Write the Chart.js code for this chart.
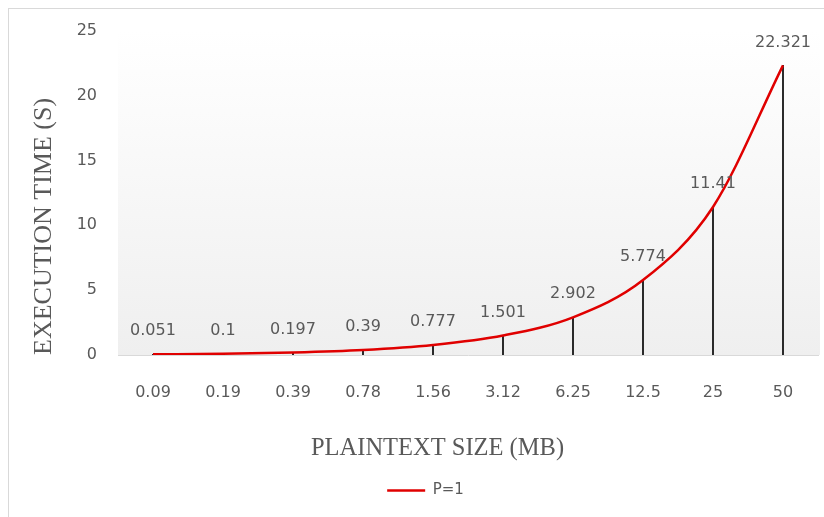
<!DOCTYPE html>
<html>
<head>
<meta charset="utf-8">
<script src="https://cdn.jsdelivr.net/npm/chart.js@4/dist/chart.umd.min.js"></script>
<style>
  html, body { margin: 0; padding: 0; background: #ffffff; }
  #wrap { width: 824px; height: 517px; }
</style>
</head>
<body>
<div id="wrap"><canvas id="c" width="824" height="517"></canvas></div>
<script>
// ---- data ----
const categories = ['0.09', '0.19', '0.39', '0.78', '1.56', '3.12', '6.25', '12.5', '25', '50'];
const timesP1 = [0.051, 0.1, 0.197, 0.39, 0.777, 1.501, 2.902, 5.774, 11.41, 22.321];
const yTicks = [0, 5, 10, 15, 20, 25];
const seriesName = 'P=1';
const xTitle = 'PLAINTEXT SIZE (MB)';
const yTitle = 'EXECUTION TIME (S)';

const TEXT = '#595959';
const SANS = '"DejaVu Sans", sans-serif';
const SERIF = '"Liberation Serif", "Times New Roman", serif';

const backgroundPlugin = {
  id: 'bg',
  beforeDraw(chart) {
    const { ctx, chartArea: a } = chart;
    ctx.save();
    ctx.fillStyle = '#ffffff';
    ctx.fillRect(0, 0, chart.width, chart.height);
    ctx.strokeStyle = '#d9d9d9';
    ctx.lineWidth = 1;
    ctx.strokeRect(8.5, 8.5, chart.width + 20, chart.height + 20);
    const g = ctx.createLinearGradient(0, a.top, 0, a.bottom);
    g.addColorStop(0, '#ffffff');
    g.addColorStop(1, '#efefef');
    ctx.fillStyle = g;
    ctx.fillRect(a.left, a.top, a.right - a.left + 2, a.bottom - a.top);
    ctx.restore();
  }
};

const labelsPlugin = {
  id: 'valueLabels',
  afterDatasetsDraw(chart) {
    const { ctx } = chart;
    const meta = chart.getDatasetMeta(0);
    ctx.save();
    ctx.font = '16px ' + SANS;
    ctx.fillStyle = TEXT;
    ctx.textAlign = 'center';
    ctx.textBaseline = 'middle';
    meta.data.forEach((pt, i) => {
      ctx.fillText(String(chart.data.datasets[0].data[i]), pt.x, pt.y - 23);
    });
    ctx.restore();
  }
};

const xTitlePlugin = {
  id: 'xTitle',
  afterDraw(chart) {
    const { ctx } = chart;
    ctx.save();
    ctx.font = '24.5px ' + SERIF;
    ctx.fillStyle = TEXT;
    ctx.textAlign = 'center';
    ctx.textBaseline = 'middle';
    ctx.fillText(xTitle, 437.5, 449);
    ctx.restore();
  }
};

new Chart(document.getElementById('c'), {
  data: {
    labels: categories,
    datasets: [
      {
        type: 'line',
        label: seriesName,
        data: timesP1,
        borderColor: '#e00000',
        backgroundColor: '#e00000',
        borderWidth: 2.5,
        pointRadius: 0,
        cubicInterpolationMode: 'monotone',
        fill: false,
        order: 0
      },
      {
        type: 'bar',
        label: 'drop',
        data: timesP1,
        backgroundColor: '#000000',
        barThickness: 1,
        order: 1
      }
    ]
  },
  options: {
    responsive: false,
    animation: false,
    devicePixelRatio: 1,
    layout: { padding: { top: 30, right: 6, left: 33, bottom: 9 } },
    plugins: {
      tooltip: { enabled: false },
      legend: {
        position: 'bottom',
        labels: {
          usePointStyle: true,
          pointStyle: 'line',
          pointStyleWidth: 38,
          color: TEXT,
          font: { family: SANS, size: 15 },
          padding: 10,
          filter: (item) => item.datasetIndex === 0
        }
      }
    },
    scales: {
      x: {
        type: 'category',
        offset: true,
        grid: { display: false, drawTicks: false },
        border: { display: true, color: '#d9d9d9', width: 1 },
        ticks: { color: TEXT, font: { family: SANS, size: 16 }, padding: 28, maxRotation: 0 },
        afterFit(scale) { scale.height = 118; }
      },
      y: {
        type: 'linear',
        min: yTicks[0],
        max: yTicks[yTicks.length - 1],
        grid: { display: false, drawTicks: false },
        border: { display: false },
        ticks: { stepSize: yTicks[1] - yTicks[0], color: TEXT, font: { family: SANS, size: 16 }, padding: 21 },
        title: {
          display: true,
          text: yTitle,
          align: 'start',
          color: TEXT,
          font: { family: SERIF, size: 26, lineHeight: 1 },
          padding: { top: -2, bottom: 0 }
        },
        afterFit(scale) { scale.width = 85; }
      }
    }
  },
  plugins: [backgroundPlugin, labelsPlugin, xTitlePlugin]
});
</script>
</body>
</html>
